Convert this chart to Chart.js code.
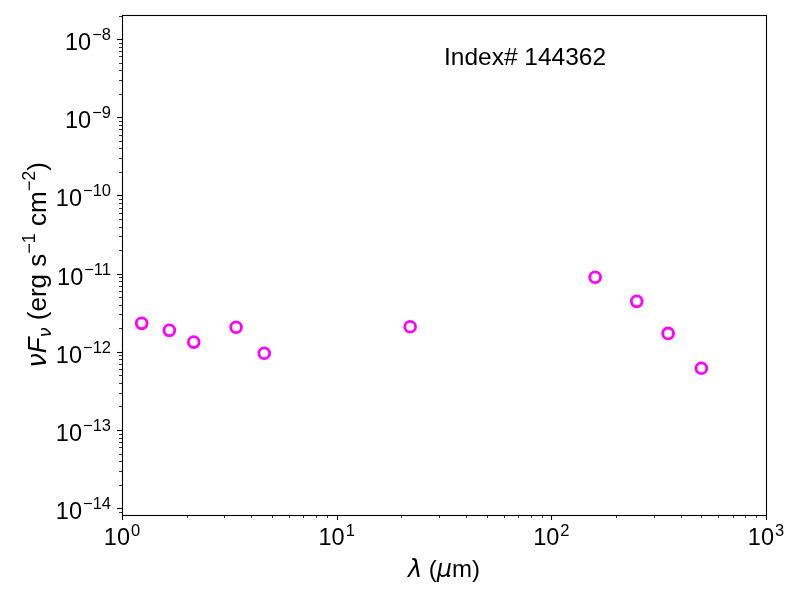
<!DOCTYPE html>
<html><head><meta charset="utf-8">
<script src="https://cdn.jsdelivr.net/npm/chart.js@4.4.0/dist/chart.umd.min.js"></script>
<style>html,body{margin:0;padding:0;background:#fff;}</style>
</head><body>
<canvas id="c" width="800" height="600"></canvas>
<script>
// ---- data ----
const wavelengths = [1.235, 1.662, 2.159, 3.4, 4.6, 22, 160, 250, 350, 500];
const fluxes = [2.31e-12, 1.88e-12, 1.33e-12, 2.06e-12, 9.6e-13, 2.09e-12, 8.97e-12, 4.42e-12, 1.72e-12, 6.15e-13];
const xTickExponents = [0, 1, 2, 3];
const yTickExponents = [-14, -13, -12, -11, -10, -9, -8];
const xRange = [1, 1000];
const yRange = [8.18e-15, 2.03e-8];
const annotationText = 'Index# 144362';

const FONT = "'Liberation Sans', Arial, Helvetica, sans-serif";
const GREEK = "'DejaVu Sans', sans-serif";

function logTicks(min, max) {
  const out = [];
  const e0 = Math.floor(Math.log10(min)), e1 = Math.ceil(Math.log10(max));
  for (let e = e0; e <= e1; e++) {
    for (let k = 1; k <= 9; k++) {
      const v = k * Math.pow(10, e);
      if (v >= min * 0.9999 && v <= max * 1.0001) out.push({ value: v, major: k === 1 });
    }
  }
  return out;
}

function fontStr(size, italic, greek) { return (italic ? 'italic ' : '') + size + 'px ' + (greek ? GREEK : FONT); }

function drawRich(ctx, segs, x, y) {
  let total = 0;
  segs.forEach(s => { ctx.font = fontStr(s.size, s.italic, s.greek); s.w = ctx.measureText(s.text).width; total += s.w + (s.gap || 0); });
  let cx = x - total / 2;
  ctx.textAlign = 'left';
  ctx.textBaseline = 'alphabetic';
  segs.forEach(s => {
    ctx.font = fontStr(s.size, s.italic, s.greek);
    ctx.fillText(s.text, cx, y + (s.dy || 0));
    cx += s.w + (s.gap || 0);
  });
}

function supStr(e) { return (e < 0 ? '\u2212' : '') + Math.abs(e); }

const BASE = 23.5, SUP = 16.5;
const LBL = 24, YLBL = 26, YSUP = 18;

const framePlugin = {
  id: 'frame',
  afterDraw(chart) {
    const ctx = chart.ctx;
    const a = chart.chartArea;
    const xs = chart.scales.x, ys = chart.scales.y;
    ctx.save();
    ctx.strokeStyle = '#000';
    ctx.fillStyle = '#000';
    ctx.lineWidth = 1.1;
    ctx.strokeRect(Math.round(a.left) + 0.5, Math.round(a.top) + 0.5, Math.round(a.right - a.left), Math.round(a.bottom - a.top));
    xs.ticks.forEach(t => {
      const px = Math.round(xs.getPixelForValue(t.value)) + 0.5;
      const len = t.major ? 5 : 3;
      ctx.lineWidth = t.major ? 1.1 : 0.8;
      ctx.beginPath(); ctx.moveTo(px, a.bottom); ctx.lineTo(px, a.bottom + len); ctx.stroke();
    });
    ys.ticks.forEach(t => {
      const py = Math.round(ys.getPixelForValue(t.value)) + 0.5;
      const len = t.major ? 5 : 3;
      ctx.lineWidth = t.major ? 1.1 : 0.8;
      ctx.beginPath(); ctx.moveTo(a.left, py); ctx.lineTo(a.left - len, py); ctx.stroke();
    });
    ctx.textBaseline = 'alphabetic';
    xTickExponents.forEach(e => {
      const px = xs.getPixelForValue(Math.pow(10, e));
      ctx.font = fontStr(BASE); const wb = ctx.measureText('10').width;
      ctx.font = fontStr(SUP); const ws = ctx.measureText(supStr(e)).width;
      const left = px - (wb + 1 + ws) / 2;
      ctx.textAlign = 'left';
      ctx.font = fontStr(BASE); ctx.fillText('10', left, a.bottom + 30);
      ctx.font = fontStr(SUP); ctx.fillText(supStr(e), left + wb + 1, a.bottom + 21);
    });
    yTickExponents.forEach(e => {
      const py = ys.getPixelForValue(Math.pow(10, e));
      ctx.font = fontStr(SUP); const ws = ctx.measureText(supStr(e)).width;
      ctx.font = fontStr(BASE); const wb = ctx.measureText('10').width;
      const right = a.left - 11;
      ctx.textAlign = 'left';
      ctx.font = fontStr(BASE); ctx.fillText('10', right - ws - 1 - wb, py + 11);
      ctx.font = fontStr(SUP); ctx.fillText(supStr(e), right - ws, py + 1);
    });
    drawRich(ctx, [
      { text: '\u03bb', size: LBL, italic: true, greek: true },
      { text: ' (', size: LBL },
      { text: '\u03bc', size: LBL, italic: true, greek: true },
      { text: 'm)', size: LBL }
    ], (a.left + a.right) / 2, 577);
    ctx.save();
    ctx.translate(46, (a.top + a.bottom) / 2);
    ctx.rotate(-Math.PI / 2);
    drawRich(ctx, [
      { text: '\u03bd', size: YLBL, italic: true, greek: true },
      { text: 'F', size: YLBL, italic: true },
      { text: '\u03bd', size: YSUP, italic: true, greek: true, dy: 5 },
      { text: ' (erg s', size: YLBL },
      { text: '\u22121', size: YSUP, dy: -11 },
      { text: ' cm', size: YLBL },
      { text: '\u22122', size: YSUP, dy: -11 },
      { text: ')', size: YLBL }
    ], 0, 0);
    ctx.restore();
    ctx.font = fontStr(24.5);
    ctx.textAlign = 'left';
    ctx.fillText(annotationText, a.left + 0.5 * (a.right - a.left), 65);
    ctx.restore();
  }
};

new Chart(document.getElementById('c'), {
  type: 'scatter',
  data: {
    datasets: [{
      data: wavelengths.map((w, i) => ({ x: w, y: fluxes[i] })),
      borderColor: '#ff00ff',
      backgroundColor: 'rgba(0,0,0,0)',
      borderWidth: 2.8,
      pointRadius: 5.4,
      pointHoverRadius: 5.4,
      pointStyle: 'circle',
      showLine: false
    }]
  },
  options: {
    responsive: false,
    animation: false,
    devicePixelRatio: 1,
    layout: { padding: { left: 0, right: 34, top: 15, bottom: 0 } },
    plugins: { legend: { display: false }, tooltip: { enabled: false } },
    scales: {
      x: {
        type: 'logarithmic', min: xRange[0], max: xRange[1],
        afterBuildTicks(s) { s.ticks = logTicks(xRange[0], xRange[1]); },
        afterFit(s) { s.height = 85; },
        ticks: { display: false },
        grid: { display: false },
        border: { display: false }
      },
      y: {
        type: 'logarithmic', min: yRange[0], max: yRange[1],
        afterBuildTicks(s) { s.ticks = logTicks(yRange[0], yRange[1]); },
        afterFit(s) { s.width = 122; },
        ticks: { display: false },
        grid: { display: false },
        border: { display: false }
      }
    }
  },
  plugins: [framePlugin]
});
</script>
</body></html>
